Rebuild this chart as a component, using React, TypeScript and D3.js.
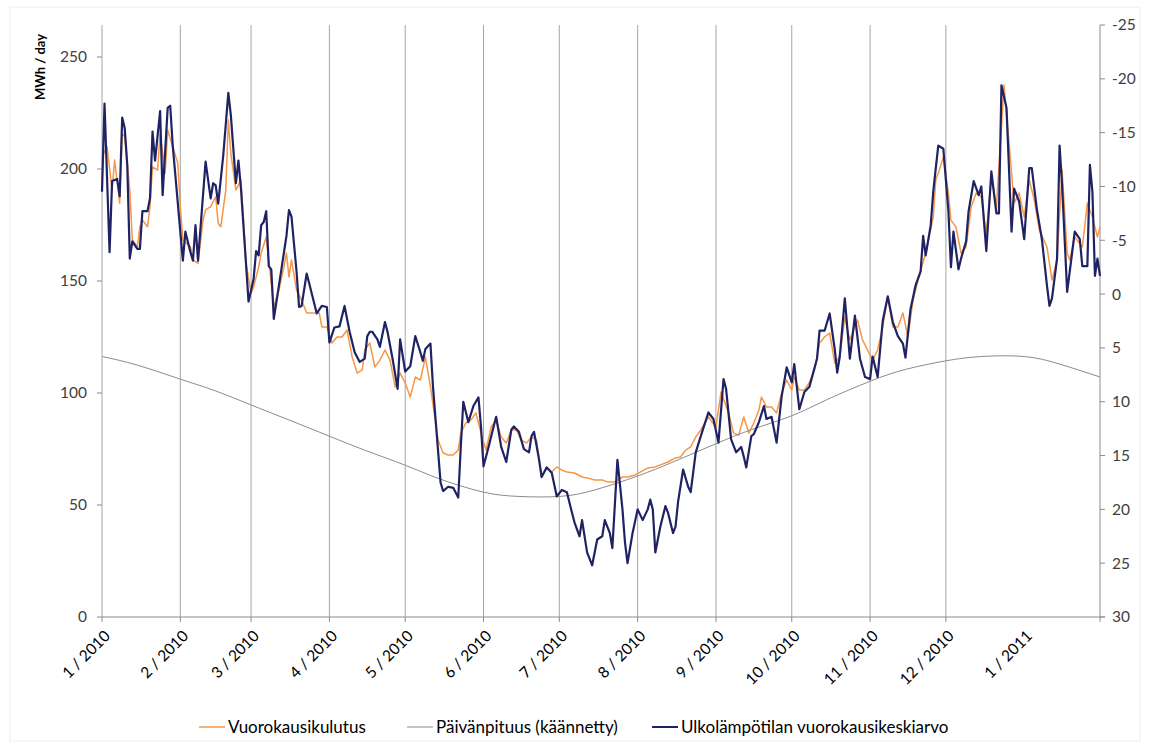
import * as d3 from "d3";

// month ticks on the x axis
const monthStarts = [
  "2010-01-01", "2010-02-01", "2010-03-01", "2010-04-01", "2010-05-01", "2010-06-01", "2010-07-01",
  "2010-08-01", "2010-09-01", "2010-10-01", "2010-11-01", "2010-12-01", "2011-01-01",
];
const monthLabels = [
  "1 / 2010", "2 / 2010", "3 / 2010", "4 / 2010", "5 / 2010", "6 / 2010", "7 / 2010",
  "8 / 2010", "9 / 2010", "10 / 2010", "11 / 2010", "12 / 2010", "1 / 2011",
];

const leftTicks = [0, 50, 100, 150, 200, 250];
const rightTicks = [-25, -20, -15, -10, -5, 0, 5, 10, 15, 20, 25, 30];

// [days since 1.1.2010, MWh/day]
const consumption: [number, number][] = [
  [0, 205.5], [2, 209.9], [4, 190.6], [5, 204.0], [7, 184.7], [8, 215.9], [9, 214.4], [11, 190.6], [12, 168.3],
  [14, 165.3], [15, 174.2], [16, 177.2], [18, 174.2], [19, 183.2], [20, 201.0], [22, 199.5], [23, 215.9],
  [25, 198.1], [26, 217.4], [28, 209.9], [30, 202.5], [31, 183.2], [32, 168.3], [35, 165.3], [36, 159.4],
  [38, 157.9], [40, 177.2], [41, 181.7], [43, 183.2], [45, 187.6], [46, 175.7], [47, 174.2], [49, 190.6],
  [50, 221.9], [51, 207.0], [53, 190.6], [55, 195.1], [56, 177.2], [57, 158.0], [59, 144.6], [60, 147.3],
  [62, 156.2], [63, 162.5], [65, 169.6], [66, 159.4], [68, 138.4], [70, 146.0], [72, 156.2], [73, 162.5],
  [74, 151.8], [75, 159.4], [77, 146.0], [79, 141.5], [81, 135.7], [83, 135.7], [86, 135.7], [87, 129.5],
  [89, 129.5], [91, 122.3], [93, 125.0], [95, 125.0], [97, 128.1], [99, 116.1], [101, 108.9], [103, 110.3],
  [104, 119.2], [106, 122.3], [108, 111.6], [110, 114.7], [112, 119.2], [114, 114.7], [116, 102.7], [118, 108.9],
  [120, 104.5], [122, 98.2], [124, 107.1], [126, 105.8], [128, 116.1], [130, 102.7], [133, 79.0], [135, 73.2],
  [137, 72.3], [139, 72.3], [141, 74.5], [142, 82.1], [144, 86.6], [146, 87.9], [148, 91.1], [150, 82.1],
  [152, 74.5], [154, 84.8], [156, 87.9], [158, 80.4], [160, 77.7], [162, 83.5], [164, 83.5], [166, 79.0],
  [168, 77.7], [170, 80.4], [172, 79.0], [174, 62.5], [176, 67.0], [178, 64.7], [180, 67.0], [182, 65.6],
  [184, 64.7], [187, 64.3], [190, 62.5], [192, 62.1], [195, 61.2], [198, 61.2], [200, 60.3], [203, 60.3],
  [206, 62.5], [208, 62.5], [211, 63.4], [213, 64.7], [216, 66.5], [219, 67.0], [221, 67.9], [224, 69.2],
  [227, 71.0], [229, 71.4], [231, 74.5], [233, 75.9], [235, 80.4], [237, 83.5], [240, 89.3], [243, 84.8],
  [245, 100.4], [248, 91.1], [250, 82.1], [252, 81.2], [254, 89.3], [256, 82.1], [258, 86.6], [260, 92.4],
  [261, 98.2], [263, 93.7], [265, 93.7], [267, 91.1], [269, 100.0], [271, 105.8], [273, 101.3], [274, 107.1],
  [276, 101.3], [278, 101.3], [280, 104.9], [282, 110.3], [284, 122.3], [286, 125.0], [288, 126.8], [290, 113.4],
  [292, 116.1], [294, 133.9], [296, 123.7], [299, 132.6], [301, 123.7], [303, 119.2], [305, 114.7], [307, 119.2],
  [309, 129.5], [311, 142.9], [313, 129.5], [315, 129.5], [317, 135.7], [319, 125.0], [321, 141.5], [323, 150.4],
  [326, 162.5], [329, 178.6], [330, 195.1], [331, 198.2], [333, 205.3], [335, 189.3], [336, 177.2], [338, 174.1],
  [340, 162.5], [342, 165.2], [344, 183.0], [346, 189.3], [348, 187.5], [350, 171.4], [352, 196.4], [354, 183.0],
  [356, 218.7], [357, 237.5], [359, 211.6], [361, 184.8], [363, 189.3], [365, 178.6], [367, 195.1], [369, 186.1],
  [371, 172.8], [374, 165.2], [376, 150.4], [378, 159.4], [380, 199.5], [382, 162.5], [383, 159.4], [385, 169.6],
  [388, 165.2], [390, 184.8], [392, 178.6], [394, 169.6], [395, 174.1],
];

// [days since 1.1.2010, outdoor temperature °C] (right axis, inverted)
const temperature: [number, number][] = [
  [0, -9.5], [1, -17.7], [3, -3.9], [4, -10.5], [6, -10.7], [7, -9.1], [8, -16.4], [9, -15.4], [10, -12.0],
  [11, -3.3], [12, -4.9], [14, -4.2], [15, -4.2], [16, -7.7], [18, -7.7], [19, -8.9], [20, -15.1], [21, -12.4],
  [23, -17.0], [24, -9.2], [26, -17.3], [27, -17.5], [28, -13.8], [31, -5.8], [32, -3.1], [33, -5.8], [35, -3.9],
  [36, -3.1], [37, -6.4], [38, -3.1], [41, -12.3], [43, -8.9], [44, -10.3], [45, -10.1], [46, -8.4], [48, -12.9],
  [50, -18.7], [51, -16.6], [53, -10.3], [54, -12.4], [55, -9.8], [58, 0.7], [60, -1.4], [61, -4.0], [62, -3.6],
  [63, -6.4], [64, -6.7], [65, -7.7], [66, -2.6], [67, -2.3], [68, 2.3], [71, -2.3], [73, -5.4], [74, -7.8],
  [75, -7.2], [77, -2.1], [78, 1.2], [79, 1.1], [81, -1.9], [82, -1.0], [85, 1.8], [87, 1.1], [89, 1.2],
  [90, 4.5], [92, 3.1], [94, 3.0], [96, 1.1], [98, 3.5], [100, 5.4], [102, 6.3], [104, 6.0], [105, 3.9],
  [106, 3.5], [107, 3.5], [109, 4.2], [110, 4.9], [112, 2.6], [113, 3.5], [115, 6.0], [117, 8.8], [118, 4.2],
  [120, 7.2], [122, 6.7], [124, 3.9], [126, 5.4], [127, 6.2], [128, 5.1], [130, 4.6], [131, 8.6], [134, 17.5],
  [135, 18.3], [137, 17.9], [139, 18.0], [141, 18.9], [142, 14.2], [143, 10.0], [145, 11.9], [147, 10.4],
  [149, 9.6], [150, 12.3], [151, 16.0], [153, 14.2], [155, 12.3], [156, 11.4], [158, 14.2], [160, 15.6],
  [162, 12.6], [163, 12.3], [165, 12.8], [167, 14.4], [169, 14.7], [170, 13.2], [171, 12.8], [173, 15.4],
  [174, 17.0], [176, 16.1], [178, 16.6], [180, 18.8], [182, 18.2], [184, 18.4], [186, 20.3], [187, 21.2],
  [189, 22.5], [190, 21.0], [192, 24.0], [194, 25.2], [196, 22.8], [198, 22.5], [199, 21.0], [201, 22.2],
  [202, 23.6], [204, 15.4], [206, 20.0], [207, 23.1], [208, 25.0], [210, 22.2], [212, 20.0], [214, 21.0],
  [216, 20.0], [217, 19.1], [218, 20.0], [219, 24.0], [221, 21.6], [223, 19.7], [224, 20.3], [226, 22.2],
  [227, 21.6], [228, 19.3], [230, 16.3], [232, 17.9], [233, 18.4], [235, 14.7], [237, 13.2], [240, 11.0],
  [242, 11.6], [244, 13.8], [246, 7.9], [247, 8.8], [249, 13.5], [251, 14.7], [253, 14.2], [254, 15.1],
  [255, 16.1], [257, 13.2], [258, 13.0], [260, 11.9], [262, 10.4], [263, 11.6], [265, 11.4], [267, 13.8],
  [269, 9.5], [271, 6.8], [273, 8.2], [274, 6.5], [276, 10.7], [278, 9.1], [280, 8.6], [283, 6.0], [284, 3.4],
  [286, 3.4], [288, 1.8], [290, 5.1], [291, 7.3], [292, 5.8], [294, 0.4], [296, 6.0], [298, 2.0], [300, 6.0],
  [302, 7.7], [304, 7.9], [305, 5.8], [307, 7.7], [309, 2.5], [311, 0.2], [313, 2.6], [315, 3.9], [317, 4.6],
  [318, 5.9], [320, 1.4], [322, -0.8], [324, -2.1], [325, -5.4], [326, -3.6], [328, -6.4], [329, -9.5],
  [330, -11.7], [331, -13.8], [333, -13.5], [335, -7.7], [336, -2.5], [337, -5.8], [339, -2.3], [340, -3.3],
  [342, -4.9], [343, -7.7], [345, -10.5], [347, -9.2], [348, -10.0], [350, -4.0], [352, -11.4], [354, -7.5],
  [355, -7.5], [356, -19.4], [358, -17.3], [360, -5.8], [361, -9.8], [363, -8.6], [365, -5.1], [367, -11.7],
  [368, -11.7], [370, -7.9], [372, -5.1], [374, -0.8], [375, 1.1], [376, 0.4], [378, -3.3], [379, -13.8],
  [380, -10.1], [382, -0.2], [384, -3.9], [385, -5.8], [387, -5.1], [388, -2.6], [390, -2.6], [391, -12.0],
  [392, -9.5], [393, -1.7], [394, -3.3], [395, -1.7],
];

// day length in hours (right axis, inverted)
const dayLengthDates = [
  "2010-01-01", "2010-01-15", "2010-02-01", "2010-02-15", "2010-03-01", "2010-03-15", "2010-04-01",
  "2010-04-15", "2010-05-01", "2010-05-15", "2010-06-01", "2010-06-15", "2010-07-01", "2010-07-15",
  "2010-08-01", "2010-08-15", "2010-09-01", "2010-09-15", "2010-10-01", "2010-10-15", "2010-11-01",
  "2010-11-15", "2010-12-01", "2010-12-15", "2011-01-01", "2011-01-15", "2011-01-31",
];
const dayLengthHours = [
  5.8, 6.6, 7.9, 9.0, 10.3, 11.6, 13.2, 14.5, 15.9, 17.2, 18.4, 18.8, 18.8, 18.2,
  16.9, 15.6, 13.9, 12.6, 11.3, 9.8, 8.1, 7.0, 6.2, 5.8, 5.8, 6.5, 7.7,
];

const seriesNames = ["Vuorokausikulutus", "Päivänpituus (käännetty)", "Ulkolämpötilan vuorokausikeskiarvo"];

const W = 1149;
const H = 744;
const FONT = "Lato, 'Open Sans', sans-serif";

const parse = d3.timeParse("%Y-%m-%d");
const start = parse("2010-01-01") as Date;
const dayToDate = (d: number) => d3.timeDay.offset(start, d);

export default function App() {
  const left = 102, right = 1100, top = 25, bottom = 617;

  const x = d3.scaleTime()
    .domain([start, parse("2011-01-31") as Date])
    .range([left, right]);
  const yLeft = d3.scaleLinear().domain([0, 250 * (bottom - top) / 560]).range([bottom, top]);
  const yRight = d3.scaleLinear().domain([-25, 30]).range([top, bottom]);

  const consLine = d3.line<[number, number]>()
    .x(d => x(dayToDate(d[0])))
    .y(d => yLeft(d[1]));
  const tempLine = d3.line<[number, number]>()
    .x(d => x(dayToDate(d[0])))
    .y(d => yRight(d[1]));
  const dayData = dayLengthDates.map((s, i) => [parse(s) as Date, dayLengthHours[i]] as [Date, number]);
  const dayLine = d3.line<[Date, number]>()
    .x(d => x(d[0]))
    .y(d => yRight(d[1]))
    .curve(d3.curveNatural);

  const months = monthStarts.map(s => parse(s) as Date);

  const legendX = [199, 407, 652];
  const legendColors = ["#F79646", "#8c8c8c", "#1f2363"];
  const legendWidths = [1.5, 1, 2];

  return (
    <svg width={W} height={H} style={{ position: "absolute", left: 0, top: 0, background: "#fff" }}
      fontFamily={FONT}>
      <rect x={10} y={7} width={1130} height={734} fill="none" stroke="#eeeeee" />

      {/* vertical gridlines (months of 2010) */}
      {months.slice(0, 12).map((m, i) => (
        <line key={"g" + i} x1={x(m)} x2={x(m)} y1={top} y2={bottom} stroke="#a6a6a6" strokeWidth={1} />
      ))}
      {/* axes */}
      <line x1={left} x2={right + 5} y1={bottom} y2={bottom} stroke="#8c8c8c" />
      <line x1={right} x2={right} y1={top} y2={bottom} stroke="#8c8c8c" />
      {months.slice(0, 12).map((m, i) => (
        <line key={"xt" + i} x1={x(m)} x2={x(m)} y1={bottom} y2={bottom + 5} stroke="#8c8c8c" />
      ))}
      <line x1={right} x2={right} y1={bottom} y2={bottom + 5} stroke="#8c8c8c" />

      {leftTicks.map(t => (
        <g key={"l" + t}>
          <line x1={left - 5} x2={left} y1={yLeft(t)} y2={yLeft(t)} stroke="#8c8c8c" />
          <text x={87} y={yLeft(t)} dy="0.35em" textAnchor="end" fontSize={15.5} fill="#404040">{t}</text>
        </g>
      ))}
      {rightTicks.map(t => (
        <g key={"r" + t}>
          <line x1={right} x2={right + 5} y1={yRight(t)} y2={yRight(t)} stroke="#8c8c8c" />
          <text x={1112} y={yRight(t)} dy="0.35em" textAnchor="start" fontSize={15.5} fill="#404040">{t}</text>
        </g>
      ))}

      <text transform="translate(45,67) rotate(-90)" textAnchor="middle" fontSize={13} fontWeight="bold"
        fill="#000">MWh / day</text>

      {months.map((m, i) => (
        <text key={"xl" + i} transform={`translate(${x(m) + 9},${bottom + 20}) rotate(-45)`}
          textAnchor="end" fontSize={15.5} fill="#000">{monthLabels[i]}</text>
      ))}

      {/* series */}
      <path d={consLine(consumption) ?? ""} fill="none" stroke="#F79646" strokeWidth={1.5} strokeLinejoin="round" />
      <path d={dayLine(dayData) ?? ""} fill="none" stroke="#8c8c8c" strokeWidth={1} />
      <path d={tempLine(temperature) ?? ""} fill="none" stroke="#1f2363" strokeWidth={2.2} strokeLinejoin="round" />

      {/* legend */}
      {seriesNames.map((name, i) => (
        <g key={"lg" + i}>
          <line x1={legendX[i]} x2={legendX[i] + 26} y1={727} y2={727} stroke={legendColors[i]}
            strokeWidth={legendWidths[i]} />
          <text x={legendX[i] + 29} y={727} dy="0.35em" fontSize={17} fill="#000">{name}</text>
        </g>
      ))}
    </svg>
  );
}
